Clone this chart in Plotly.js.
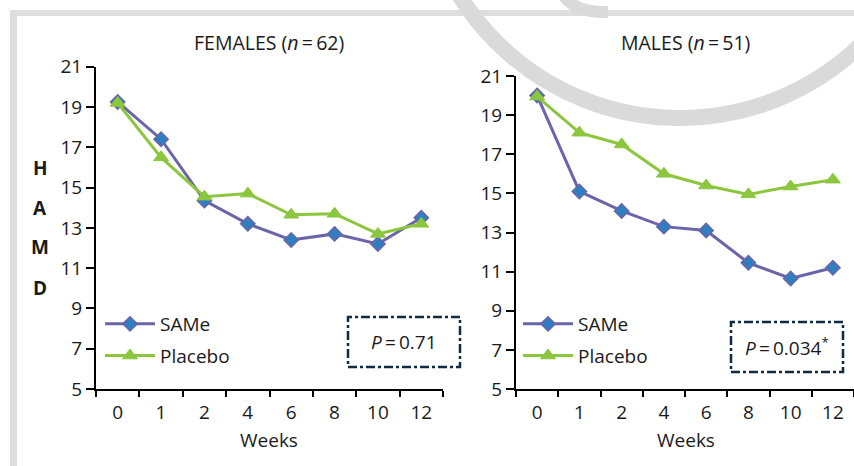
<!DOCTYPE html>
<html>
<head>
<meta charset="utf-8">
<script src="https://cdn.plot.ly/plotly-3.0.1.min.js"></script>
<style>html,body{margin:0;padding:0;background:#fff;}#chart{width:854px;height:466px;}</style>
</head>
<body>
<div id="chart"></div>
<script>
const weeks = ['0', '1', '2', '4', '6', '8', '10', '12'];
const femaleSAMe = [19.25, 17.4, 14.35, 13.2, 12.4, 12.7, 12.2, 13.5];
const femalePlacebo = [19.2, 16.5, 14.55, 14.7, 13.65, 13.7, 12.7, 13.2];
const maleSAMe = [20.0, 15.1, 14.1, 13.3, 13.1, 11.45, 10.65, 11.2];
const malePlacebo = [19.95, 18.1, 17.5, 16.0, 15.4, 14.95, 15.35, 15.7];
const yTicks = [5, 7, 9, 11, 13, 15, 17, 19, 21];
const panelTitles = ['FEMALES (<i>n</i>\u2009=\u200962)', 'MALES (<i>n</i>\u2009=\u200951)'];
const pValues = ['<i>P</i>\u2009=\u20090.71', '<i>P</i>\u2009=\u20090.034<sup>*</sup>'];
const seriesNames = ['SAMe', 'Placebo'];
const yLetters = ['H', 'A', 'M', 'D'];

const W = 854, H = 466;
const px = x => x / W;
const py = y => 1 - y / H;

const FONT = 'Open Sans, Noto Sans, sans-serif';
const SAME_LINE = '#6a64a8', SAME_FILL = '#2f7fc0', PLAC = '#8cc63f', BOX = '#0f2a42';

function sameTrace(y, xa, ya, leg, show) {
  return {x: weeks, y: y, xaxis: xa, yaxis: ya, type: 'scatter', mode: 'lines+markers',
    name: seriesNames[0], legend: leg, legendgroup: leg + 'a', showlegend: show,
    line: {color: SAME_LINE, width: 3},
    marker: {symbol: 'diamond', size: 11, color: SAME_FILL, line: {color: SAME_LINE, width: 1.5}}};
}
function placTrace(y, xa, ya, leg, show) {
  return {x: weeks, y: y, xaxis: xa, yaxis: ya, type: 'scatter', mode: 'lines+markers',
    name: seriesNames[1], legend: leg, legendgroup: leg + 'b', showlegend: show,
    line: {color: PLAC, width: 3},
    marker: {symbol: 'triangle-up', size: 13, color: PLAC, line: {color: PLAC, width: 1}}};
}

const data = [
  sameTrace(femaleSAMe, 'x', 'y', 'legend', true),
  placTrace(femalePlacebo, 'x', 'y', 'legend', true),
  sameTrace(maleSAMe, 'x2', 'y2', 'legend2', true),
  placTrace(malePlacebo, 'x2', 'y2', 'legend2', true)
];

function xAxis(d0, d1, anchor) {
  return {domain: [d0, d1], anchor: anchor, type: 'category', range: [-0.5, 7.5],
    tickson: 'boundaries', ticks: 'outside', ticklen: 6, tickwidth: 2, tickcolor: '#000',
    ticklabelstandoff: 5,
    showline: true, linecolor: '#000', linewidth: 2, showgrid: false, zeroline: false,
    tickfont: {family: FONT, size: 19, color: '#1a1a1a'}, fixedrange: true};
}
function yAxis(d0, d1, anchor) {
  return {domain: [d0, d1], anchor: anchor, range: [5, 21], tickmode: 'array', tickvals: yTicks,
    ticktext: yTicks.map(String), ticks: 'outside', ticklen: 8, tickwidth: 2, tickcolor: '#000',
    showline: true, linecolor: '#000', linewidth: 2, showgrid: false, zeroline: false,
    tickfont: {family: FONT, size: 19, color: '#1a1a1a'}, fixedrange: true};
}

const ann = [];
const txtFont = {family: FONT, size: 19, color: '#1a1a1a'};
ann.push({x: px(269), y: py(43), xref: 'paper', yref: 'paper', text: panelTitles[0], showarrow: false,
  font: {family: FONT, size: 19.5, color: '#1a1a1a'}, xanchor: 'center', yanchor: 'middle'});
ann.push({x: px(685), y: py(43), xref: 'paper', yref: 'paper', text: panelTitles[1], showarrow: false,
  font: {family: FONT, size: 19.5, color: '#1a1a1a'}, xanchor: 'center', yanchor: 'middle'});
ann.push({x: px(269), y: py(440), xref: 'paper', yref: 'paper', text: 'Weeks', showarrow: false,
  font: txtFont, xanchor: 'center', yanchor: 'middle'});
ann.push({x: px(686), y: py(440), xref: 'paper', yref: 'paper', text: 'Weeks', showarrow: false,
  font: txtFont, xanchor: 'center', yanchor: 'middle'});
const letterY = [168, 208, 247, 288];
yLetters.forEach((L, i) => ann.push({x: px(40), y: py(letterY[i]), xref: 'paper', yref: 'paper', text: '<b>' + L + '</b>',
  showarrow: false, font: txtFont, xanchor: 'center', yanchor: 'middle'}));
ann.push({x: px(404), y: py(342), xref: 'paper', yref: 'paper', text: pValues[0], showarrow: false,
  font: txtFont, xanchor: 'center', yanchor: 'middle'});
ann.push({x: px(787), y: py(347), xref: 'paper', yref: 'paper', text: pValues[1], showarrow: false,
  font: txtFont, xanchor: 'center', yanchor: 'middle'});

const hookPath = 'M ' + px(564) + ',' + py(-4) + ' Q ' + px(576) + ',' + py(13) + ' ' + px(608) + ',' + py(12);
const shapes = [
  {type: 'rect', xref: 'paper', yref: 'paper', x0: px(10), x1: 1, y0: py(16), y1: py(10), fillcolor: '#dedede', line: {width: 0}, layer: 'below'},
  {type: 'rect', xref: 'paper', yref: 'paper', x0: px(10), x1: px(17), y0: 0, y1: py(10), fillcolor: '#dedede', line: {width: 0}, layer: 'below'},
  {type: 'circle', xref: 'paper', yref: 'paper', x0: px(420), x1: px(940), y0: py(118), y1: py(-402), line: {color: '#dadada', width: 16}, layer: 'below'},
  {type: 'path', xref: 'paper', yref: 'paper', path: hookPath, line: {color: '#dadada', width: 12}, layer: 'below'},
  {type: 'rect', xref: 'paper', yref: 'paper', x0: px(348), x1: px(460), y0: py(367), y1: py(317), line: {color: BOX, width: 2.5, dash: 'dashdot'}},
  {type: 'rect', xref: 'paper', yref: 'paper', x0: px(731), x1: px(843), y0: py(372), y1: py(322), line: {color: BOX, width: 2.5, dash: 'dashdot'}}
];

const legendBase = {xanchor: 'left', yanchor: 'top', bgcolor: 'rgba(0,0,0,0)', borderwidth: 0,
  font: {family: FONT, size: 19, color: '#1a1a1a'}, traceorder: 'grouped', tracegroupgap: 4, itemwidth: 50};

const layout = {
  width: W, height: H, margin: {l: 0, r: 0, t: 0, b: 0},
  paper_bgcolor: '#ffffff', plot_bgcolor: 'rgba(0,0,0,0)',
  font: {family: FONT, size: 19, color: '#1a1a1a'},
  xaxis: xAxis(px(96), px(443), 'y'),
  yaxis: yAxis(py(389), py(66.7), 'x'),
  xaxis2: xAxis(px(516), 1, 'y2'),
  yaxis2: yAxis(py(389), py(76), 'x2'),
  legend: Object.assign({}, legendBase, {x: px(100), y: py(305)}),
  legend2: Object.assign({}, legendBase, {x: px(518), y: py(305)}),
  annotations: ann,
  shapes: shapes
};

Plotly.newPlot('chart', data, layout, {staticPlot: true, displayModeBar: false});
</script>
</body>
</html>
